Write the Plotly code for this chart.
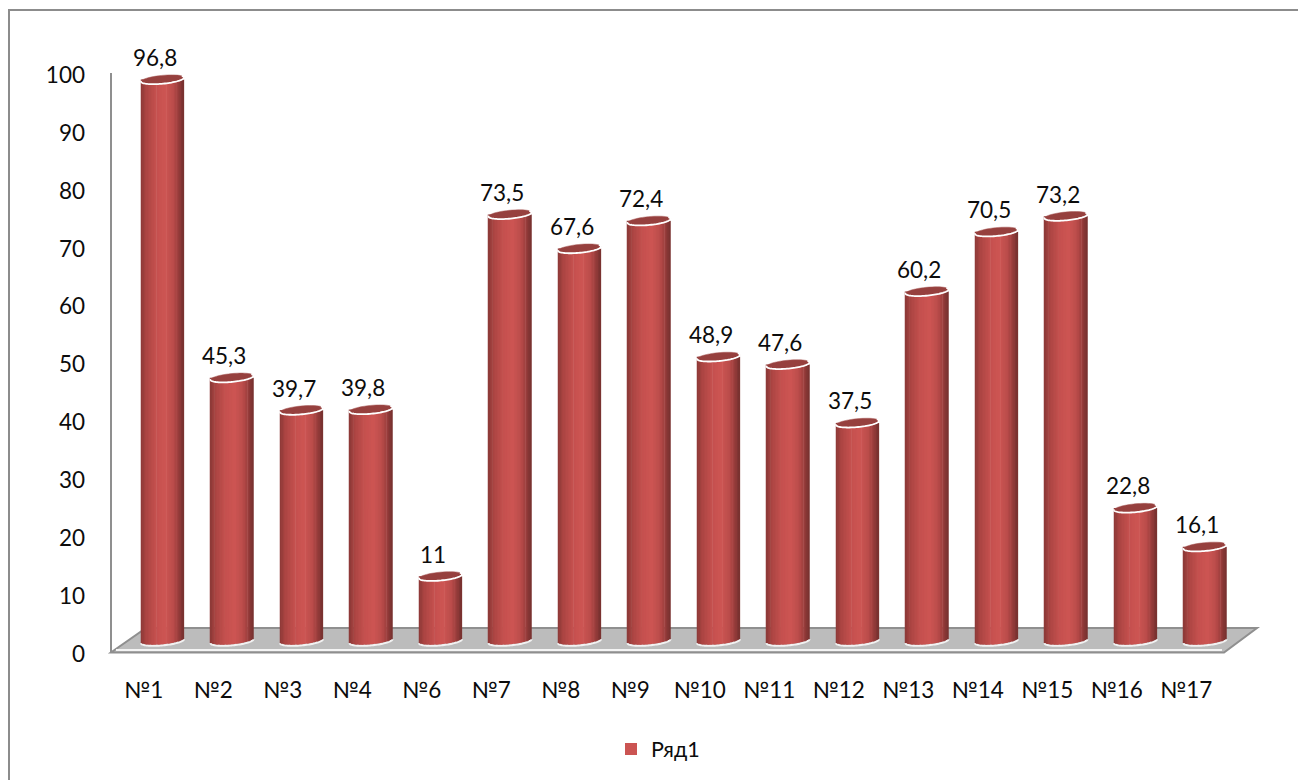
import numpy as np
import plotly.graph_objects as go

categories = ["№1", "№2", "№3", "№4", "№6", "№7", "№8", "№9", "№10", "№11", "№12", "№13", "№14", "№15", "№16", "№17"]
values = [96.8, 45.3, 39.7, 39.8, 11, 73.5, 67.6, 72.4, 48.9, 47.6, 37.5, 60.2, 70.5, 73.2, 22.8, 16.1]
y_ticks = list(range(0, 101, 10))
series_name = "Ряд1"

W, H = 1298, 780
FONT = "Lato, Carlito, 'Noto Sans', sans-serif"
FS = 22.5
TXT = "#0c0c0c"

pos = list(range(len(categories)))
PX_X = 69.5      # px per category
PX_Y = 5.79      # px per value unit
A, B, K = 21.5, 4.2, 2.0   # cylinder half-width, ellipse half-height, tilt in px
HALF = A / PX_X
Y2_MIN = -3.0


def px(x):
    return x / W


def py(y):
    return 1 - y / H


def poly(points, close=True):
    s = "M" + " L".join(f"{a:.4f},{b:.4f}" for a, b in points)
    return s + (" Z" if close else "")


def ellipse_points(i, v, t0, t1, n=48):
    t = np.linspace(t0, t1, n)
    return [(i + A * np.cos(a) / PX_X, v + (B * np.sin(a) + K * np.cos(a)) / PX_Y) for a in t]


def shade(u):
    stops_u = [-1.0, -0.75, -0.3, 0.15, 0.5, 0.8, 1.0]
    r = np.interp(u, stops_u, [138, 170, 196, 205, 188, 150, 116])
    g = np.interp(u, stops_u, [56, 68, 80, 85, 77, 60, 48])
    b = np.interp(u, stops_u, [54, 66, 78, 83, 75, 58, 46])
    return f"rgb({r:.0f},{g:.0f},{b:.0f})"


fig = go.Figure()

# invisible carrier that brings the front axes to life
fig.add_trace(go.Scatter(x=pos, y=values, mode="markers", marker=dict(opacity=0),
                         showlegend=False, hoverinfo="skip", xaxis="x", yaxis="y"))

N = 30
edges = np.linspace(-1, 1, N + 1)
mid_idx = N // 2
for k in range(N):
    u = (edges[k] + edges[k + 1]) / 2
    base = (K * u - B * np.sqrt(max(0.0, 1 - u * u))) / PX_Y
    fig.add_trace(go.Bar(
        x=pos,
        y=[v - base for v in values],
        base=base,
        width=2 * HALF / N + 0.002,
        offset=edges[k] * HALF,
        marker=dict(color=shade(u), line=dict(width=0)),
        name=series_name,
        showlegend=(k == mid_idx),
        hoverinfo="skip",
        xaxis="x2",
        yaxis="y2",
    ))

shapes = []
# outer frame
shapes.append(dict(type="line", xref="paper", yref="paper", x0=px(9), x1=px(9), y0=py(9), y1=py(H),
                   line=dict(color="#8c8c8c", width=2)))
shapes.append(dict(type="line", xref="paper", yref="paper", x0=px(9), x1=1, y0=py(10), y1=py(10),
                   line=dict(color="#8c8c8c", width=2)))
# left wall edge
shapes.append(dict(type="line", xref="paper", yref="paper", x0=px(111), x1=px(111), y0=py(73), y1=py(653),
                   layer="below", line=dict(color="#8f8f8f", width=2)))
# floor
floor = [(px(111), py(652.5)), (px(1224), py(652.5)), (px(1257), py(628)), (px(146), py(628))]
shapes.append(dict(type="path", xref="paper", yref="paper", path=poly(floor), layer="below",
                   fillcolor="#bcbcbc", line=dict(color="#8f8f8f", width=2)))
shapes.append(dict(type="line", xref="paper", yref="paper", x0=px(116), x1=px(1222), y0=py(650), y1=py(650),
                   layer="below", line=dict(color="#f4f4f4", width=2)))

for i, v in zip(pos, values):
    # white rim below the foot of the cylinder
    rim = ellipse_points(i, 0, np.pi, 2 * np.pi)
    rim = [(a, b - 1.2 / PX_Y) for a, b in rim]
    shapes.append(dict(type="path", xref="x2", yref="y2", path=poly(rim, close=False), layer="below",
                       line=dict(color="#f2f2f2", width=2)))
    # top cap
    shapes.append(dict(type="path", xref="x2", yref="y2", path=poly(ellipse_points(i, v, 0, 2 * np.pi)),
                       fillcolor="#96403e", line=dict(color="#a85a58", width=0.5), layer="above"))
    shapes.append(dict(type="path", xref="x2", yref="y2",
                       path=poly(ellipse_points(i, v, np.pi - 0.15, 2 * np.pi + 0.45), close=False),
                       line=dict(color="#ffffff", width=1.8), layer="above"))

annotations = [
    dict(x=i, y=v, xref="x2", yref="y2", text=f"{v:g}".replace(".", ","), showarrow=False,
         xshift=-8, yshift=22, xanchor="center", yanchor="middle",
         font=dict(family=FONT, size=FS, color=TXT))
    for i, v in zip(pos, values)
]

fig.update_layout(
    width=W, height=H, autosize=False,
    margin=dict(l=0, r=0, t=0, b=0, autoexpand=False),
    paper_bgcolor="white", plot_bgcolor="rgba(0,0,0,0)",
    barmode="overlay",
    shapes=shapes, annotations=annotations,
    font=dict(family=FONT, size=FS, color=TXT),
    showlegend=True,
    legend=dict(x=px(611), y=py(749), xanchor="left", yanchor="middle", bgcolor="rgba(0,0,0,0)",
                font=dict(family=FONT, size=21.5, color=TXT), itemwidth=30),
    xaxis=dict(domain=[px(109), px(1221)], range=[-0.5, len(pos) - 0.5], tickmode="array",
               tickvals=pos, ticktext=categories, showgrid=False, zeroline=False, showline=False,
               ticks="", ticklabelstandoff=20, anchor="y", fixedrange=True),
    yaxis=dict(domain=[py(654), py(75)], range=[0, 100], tickmode="array", tickvals=y_ticks,
               showgrid=False, zeroline=False, showline=False,
               ticks="", ticklabelstandoff=24, anchor="free", position=px(109), fixedrange=True),
    xaxis2=dict(domain=[px(127.75), px(127.75 + 16 * PX_X)], range=[-0.5, len(pos) - 0.5],
                visible=False, anchor="y2", fixedrange=True),
    yaxis2=dict(domain=[py(640 - Y2_MIN * PX_Y), py(640 - 100 * PX_Y)], range=[Y2_MIN, 100], visible=False,
                anchor="x2", fixedrange=True),
)

fig.write_html("out.html", config=dict(displayModeBar=False),
               post_script="document.body.style.margin='0';document.body.style.overflow='hidden';")
